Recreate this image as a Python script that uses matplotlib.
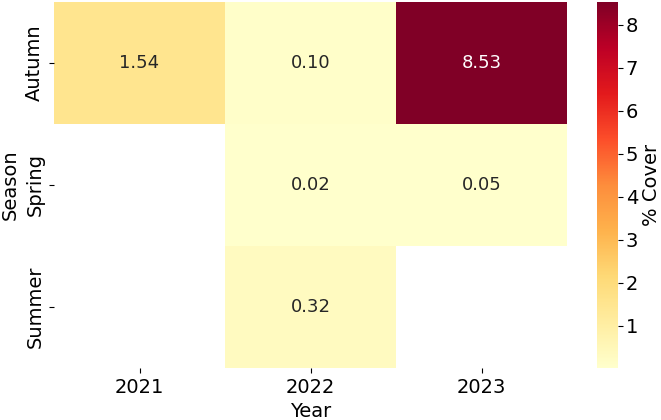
import numpy as np
import pandas as pd
import matplotlib
matplotlib.use('Agg')
import matplotlib.pyplot as plt
import seaborn as sns

# Data
seasons = ['Autumn', 'Spring', 'Summer']
years = ['2021', '2022', '2023']
autumn = [1.54, 0.10, 8.53]
spring = [np.nan, 0.02, 0.05]
summer = [np.nan, 0.32, np.nan]

df = pd.DataFrame([autumn, spring, summer], index=seasons, columns=years)
df.index.name = 'Season'
df.columns.name = 'Year'

plt.rcParams['font.family'] = ['DejaVu Sans']

W, H = 661, 420
fig = plt.figure(figsize=(6.61, 4.2), dpi=100)
ax = fig.add_axes([54 / W, 1 - 368 / H, (567 - 54) / W, (368 - 2) / H])
cax = fig.add_axes([597 / W, 1 - 368 / H, 21 / W, (368 - 2) / H])

sns.heatmap(df, annot=True, fmt='.2f', cmap='YlOrRd', ax=ax, cbar_ax=cax,
            annot_kws={'size': 13})
ax.set_xlabel('Year', fontsize=14)
ax.set_ylabel('Season', fontsize=14)
ax.tick_params(axis='both', labelsize=14)
cax.tick_params(labelsize=14, pad=2)
cax.set_ylabel('% Cover', fontsize=14, labelpad=3)

plt.savefig('out.png', dpi=100)
